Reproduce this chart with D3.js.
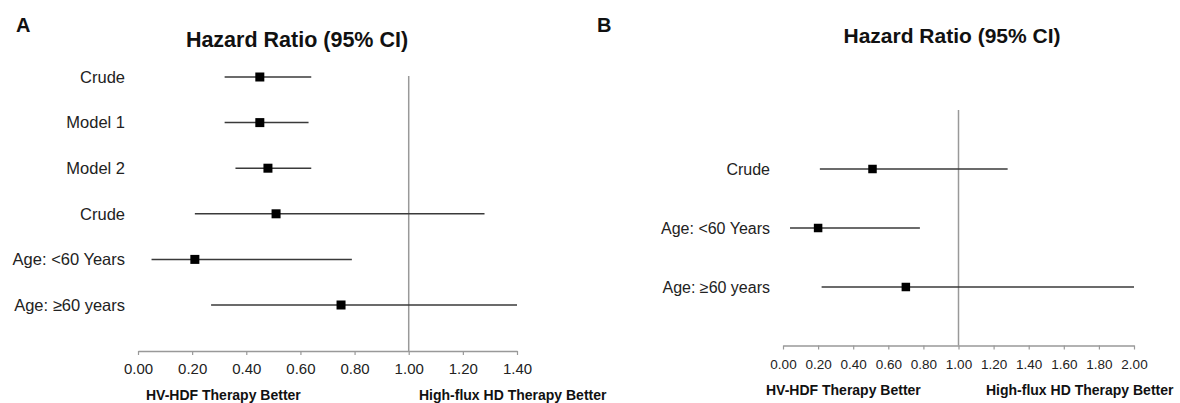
<!DOCTYPE html>
<html>
<head>
<meta charset="utf-8">
<script src="https://cdn.jsdelivr.net/npm/d3@7/dist/d3.min.js"></script>
<style>
  html, body { margin: 0; padding: 0; background: #fff; }
  svg { display: block; font-family: Arial, "Liberation Sans", Helvetica, sans-serif; }
</style>
</head>
<body>
<svg id="chart" width="1180" height="403"></svg>
<script>
// ---- Data: Panel A ----
const panelALabels = ["Crude", "Model 1", "Model 2", "Crude", "Age: <60 Years", "Age: \u226560 years"];
const panelAHR     = [0.45, 0.45, 0.48, 0.51, 0.21, 0.75];
const panelALower  = [0.32, 0.32, 0.36, 0.21, 0.05, 0.27];
const panelAUpper  = [0.64, 0.63, 0.64, 1.28, 0.79, 1.40];
const panelATicks  = [0.0, 0.2, 0.4, 0.6, 0.8, 1.0, 1.2, 1.4];

// ---- Data: Panel B ----
const panelBLabels = ["Crude", "Age: <60 Years", "Age: \u226560 years"];
const panelBHR     = [0.51, 0.20, 0.70];
const panelBLower  = [0.21, 0.04, 0.22];
const panelBUpper  = [1.28, 0.78, 2.00];
const panelBTicks  = [0.0, 0.2, 0.4, 0.6, 0.8, 1.0, 1.2, 1.4, 1.6, 1.8, 2.0];

const titleText = "Hazard Ratio (95% CI)";
const leftNote = "HV-HDF Therapy Better";
const rightNote = "High-flux HD Therapy Better";

const svg = d3.select("#chart");

function drawPanel(cfg) {
  const g = svg.append("g");
  const x = d3.scaleLinear().domain([0, d3.max(cfg.ticks)]).range([cfg.x0, cfg.x1]);
  const y = d3.scalePoint().domain(d3.range(cfg.labels.length)).range([cfg.yTop, cfg.yBot]);

  // panel letter
  g.append("text").attr("x", cfg.letterX).attr("y", 32)
    .attr("font-size", 20).attr("font-weight", "bold").attr("fill", "#111").text(cfg.letter);

  // title
  g.append("text").attr("x", cfg.titleX).attr("y", cfg.titleY).attr("text-anchor", "middle")
    .attr("font-size", cfg.titleSize).attr("font-weight", "bold").attr("fill", "#111").text(titleText);

  // axis
  const axis = d3.axisBottom(x).tickValues(cfg.ticks).tickFormat(d3.format(".2f"))
    .tickSize(4).tickSizeOuter(0);
  const ag = g.append("g").attr("transform", `translate(0,${cfg.axisY})`).call(axis);
  ag.select(".domain").attr("stroke", "#999").attr("stroke-width", 1.5);
  ag.selectAll(".tick line").attr("stroke", "#999").attr("stroke-width", 1.2);
  ag.selectAll(".tick text").attr("font-size", cfg.tickSize).attr("fill", "#222")
    .attr("font-family", "Arial, 'Liberation Sans', sans-serif").attr("dy", null).attr("y", cfg.tickDy);

  // reference line at 1
  g.append("line").attr("x1", x(1)).attr("x2", x(1)).attr("y1", cfg.refTop).attr("y2", cfg.axisY)
    .attr("stroke", "#999").attr("stroke-width", 1.5);

  const idx = d3.range(cfg.labels.length);
  // CI lines
  g.selectAll(".ci").data(idx).join("line")
    .attr("x1", i => x(cfg.lower[i])).attr("x2", i => x(cfg.upper[i]))
    .attr("y1", i => y(i)).attr("y2", i => y(i))
    .attr("stroke", "#3a3a3a").attr("stroke-width", 1.5);
  // squares
  g.selectAll(".pt").data(idx).join("rect")
    .attr("x", i => x(cfg.hr[i]) - cfg.sq / 2).attr("y", i => y(i) - cfg.sq / 2)
    .attr("width", cfg.sq).attr("height", cfg.sq).attr("fill", "#000");
  // row labels
  g.selectAll(".lbl").data(idx).join("text")
    .attr("x", cfg.labelX).attr("y", i => y(i)).attr("dy", "0.35em")
    .attr("text-anchor", "end").attr("font-size", cfg.labelSize).attr("fill", "#222")
    .text(i => cfg.labels[i]);

  // notes
  g.append("text").attr("x", cfg.leftNoteX).attr("y", cfg.noteY).attr("font-size", 14)
    .attr("font-weight", "bold").attr("fill", "#111").text(leftNote);
  g.append("text").attr("x", cfg.rightNoteX).attr("y", cfg.noteY).attr("font-size", 14)
    .attr("font-weight", "bold").attr("fill", "#111").text(rightNote);
}

drawPanel({
  letter: "A", letterX: 16,
  labels: panelALabels, hr: panelAHR, lower: panelALower, upper: panelAUpper, ticks: panelATicks,
  x0: 138, x1: 517, yTop: 77, yBot: 305, axisY: 351, refTop: 76,
  titleX: 297, titleY: 47, titleSize: 21.5,
  tickSize: 15, tickDy: 23, labelX: 125, labelSize: 16.5, sq: 9,
  leftNoteX: 146, rightNoteX: 419, noteY: 400
});

drawPanel({
  letter: "B", letterX: 597,
  labels: panelBLabels, hr: panelBHR, lower: panelBLower, upper: panelBUpper, ticks: panelBTicks,
  x0: 783, x1: 1134, yTop: 169, yBot: 287, axisY: 345.5, refTop: 110,
  titleX: 952, titleY: 43, titleSize: 21,
  tickSize: 13.5, tickDy: 23, labelX: 770, labelSize: 16, sq: 8.5,
  leftNoteX: 766, rightNoteX: 986, noteY: 395
});
</script>
</body>
</html>
